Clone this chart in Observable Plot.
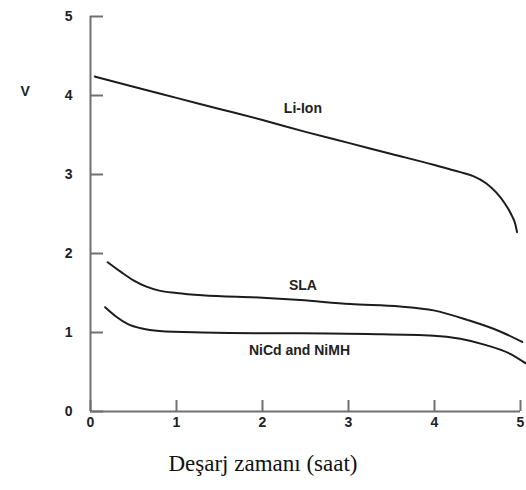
<!DOCTYPE html>
<html>
<head>
<meta charset="utf-8">
<script src="https://cdn.jsdelivr.net/npm/d3@7"></script>
<script src="https://cdn.jsdelivr.net/npm/@observablehq/plot@0.6"></script>
<style>
  body { margin: 0; background: #fff; }
  #caption { width: 526px; text-align: center; font-family: "Liberation Serif", "Times New Roman", serif; font-size: 23px; line-height: 26px; margin-top: 11px; color: #111; }
</style>
</head>
<body>
<div id="chart"></div>
<div id="caption">Deşarj zamanı (saat)</div>
<script>
// Discharge time (hours) and voltage (V)
const liIonHours = [0.05, 0.5, 1, 1.5, 2, 2.5, 3, 3.5, 4, 4.3, 4.45, 4.6, 4.72, 4.82, 4.89, 4.94, 4.96];
const liIonVolts = [4.24, 4.11, 3.97, 3.83, 3.69, 3.54, 3.40, 3.26, 3.12, 3.03, 2.98, 2.89, 2.77, 2.63, 2.50, 2.37, 2.27];

const slaHours = [0.2, 0.35, 0.5, 0.65, 0.8, 1.0, 1.3, 2.0, 2.44, 3.02, 3.6, 3.99, 4.38, 4.77, 5.02];
const slaVolts = [1.89, 1.77, 1.66, 1.58, 1.53, 1.50, 1.47, 1.44, 1.41, 1.36, 1.33, 1.28, 1.16, 1.01, 0.88];

const nicdHours = [0.17, 0.3, 0.43, 0.6, 0.8, 1.3, 2.0, 2.44, 3.22, 3.99, 4.3, 4.6, 4.88, 5.06];
const nicdVolts = [1.32, 1.20, 1.11, 1.05, 1.02, 1.00, 0.99, 0.99, 0.98, 0.96, 0.92, 0.84, 0.73, 0.61];

const seriesNames = ["Li-Ion", "SLA", "NiCd and NiMH"];
const labelHours = [2.47, 2.47, 2.43];
const labelVolts = [3.83, 1.60, 0.77];

const xTicks = [0, 1, 2, 3, 4, 5];
const yTicks = [0, 1, 2, 3, 4, 5];
const yLabel = "V";

const toRows = (name, xs, ys) => xs.map((x, i) => ({series: name, x, y: ys[i]}));
const curves = [
  ...toRows(seriesNames[0], liIonHours, liIonVolts),
  ...toRows(seriesNames[1], slaHours, slaVolts),
  ...toRows(seriesNames[2], nicdHours, nicdVolts)
];
const labels = seriesNames.map((s, i) => ({text: s, x: labelHours[i], y: labelVolts[i]}));

const font = "'Liberation Sans', Arial, sans-serif";
const axisColor = "#707070";

const chart = Plot.plot({
  width: 526,
  height: 440,
  marginTop: 16,
  marginBottom: 29,
  marginLeft: 90,
  marginRight: 6,
  style: {fontFamily: font, background: "#fff"},
  x: {domain: [0, 5]},
  y: {domain: [0, 5]},
  marks: [
    Plot.ruleX([0], {stroke: axisColor, strokeWidth: 2}),
    Plot.ruleY([0], {stroke: axisColor, strokeWidth: 2}),
    Plot.axisY({ticks: yTicks, tickSize: -13, tickPadding: 31, stroke: axisColor, strokeWidth: 2,
      fontSize: 14, fontWeight: "bold", fill: "#222", label: null, tickFormat: d => d}),
    Plot.axisX({ticks: xTicks, tickSize: -11, tickPadding: 17, stroke: axisColor, strokeWidth: 2,
      fontSize: 14, fontWeight: "bold", fill: "#222", label: null, tickFormat: d => d}),
    Plot.line(curves, {x: "x", y: "y", z: "series", curve: "monotone-x",
      stroke: "#1c1c1c", strokeWidth: 2, clip: false}),
    Plot.text(labels, {x: "x", y: "y", text: "text", fontSize: 14, fontWeight: "bold",
      fill: "#222", letterSpacing: 0.5}),
    Plot.text([yLabel], {frameAnchor: "top-left", dx: -70, dy: 70, fontSize: 14, fontWeight: "bold", fill: "#222"})
  ]
});
document.getElementById("chart").appendChild(chart);
</script>
</body>
</html>
